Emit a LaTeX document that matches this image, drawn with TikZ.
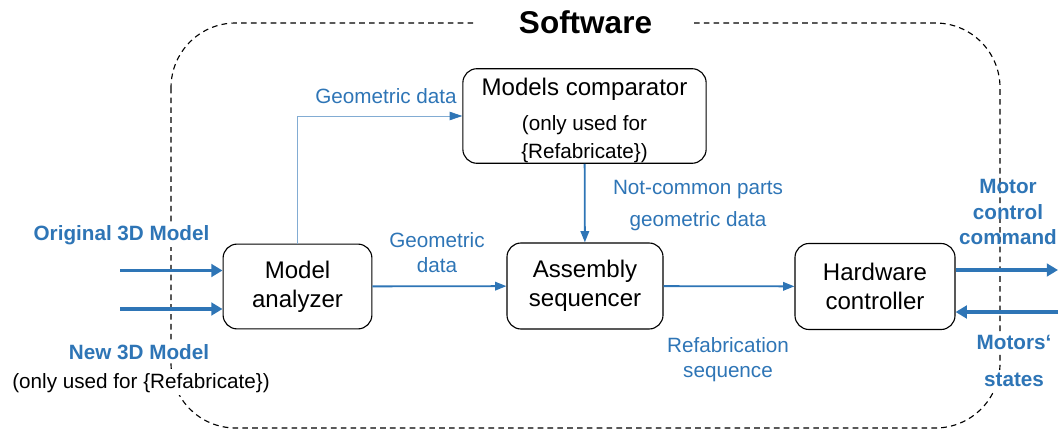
\documentclass[tikz,border=0pt]{standalone}
\usepackage{fontspec}
\setmainfont{Liberation Sans}
\usetikzlibrary{arrows.meta}
\definecolor{swblue}{HTML}{2E75B6}
\newcommand{\smalltxt}{\fontsize{14.7}{17.5}\selectfont}

\begin{document}
\begin{tikzpicture}[x=0.025cm, y=-0.025cm,
  box/.style={draw, line width=0.8pt, rounded corners=10pt, align=center, font=\fontsize{17.1}{20.6}\selectfont},
  lbl/.style={text=swblue, align=center, inner sep=2pt, font=\fontsize{14.7}{17.8}\selectfont},
  blbl/.style={lbl, font=\fontsize{14.7}{17.8}\selectfont\bfseries},
  fat/.style={draw=swblue, line width=2.8pt, -{Triangle[length=8pt, width=9pt]}},
  flow/.style={draw=swblue, line width=1.3pt, -{Triangle[length=8pt, width=6pt]}},
  slim/.style={draw=swblue!60, line width=0.5pt, -{Triangle[length=9pt, width=6pt, fill=swblue, color=swblue]}}]
  \useasboundingbox (0,0) rectangle (1062,432);

  % software frame
  \draw[line width=0.8pt, dash pattern=on 4pt off 3pt, rounded corners=46pt] (171,23) rectangle (1000,428);
  \node[fill=white, inner xsep=30pt, font=\fontsize{22.4}{26}\selectfont\bfseries] (title) at (585.5,22) {Software};

  % blocks
  \node[box, minimum width=3.72cm, minimum height=2.12cm] (analyzer) at (297.5,286.5) {Model\\analyzer};
  \node[box, minimum width=6.08cm, minimum height=2.15cm, inner ysep=0pt] (comparator) at (584.5,116)
    {\rule{0pt}{19pt}Models comparator\\[4pt]{\smalltxt (only used for}\\{\smalltxt\{Refabricate\})}};
  \node[box, minimum width=3.9cm, minimum height=2.15cm] (assembly) at (585,286) {Assembly\\sequencer};
  \node[box, minimum width=4.0cm, minimum height=2.15cm] (hardware) at (875,286.5) {Hardware\\controller};

  % inputs
  \node[blbl, fill=white] (orig) at (121.5,235) {Original 3D Model};
  \node[blbl, fill=white] (new) at (139,352) {New 3D Model};
  \node[fill=white, inner sep=2pt, font=\fontsize{14.7}{17.8}\selectfont] (note) at (141,383) {(only used for \{Refabricate\})};
  \coordinate (in1) at (120,270.5);
  \coordinate (in2) at (120,309);
  \draw[fat] (in1) -- (analyzer.west |- in1);
  \draw[fat] (in2) -- (analyzer.west |- in2);

  % outputs
  \node[blbl] (cmd) at (1008,212) {Motor\\control\\command};
  \node[blbl, fill=white] (motors) at (1014,342) {Motors‘};
  \node[blbl, fill=white] (states) at (1014,380) {states};
  \coordinate (out) at (1058,270);
  \coordinate (back) at (1058,312);
  \draw[fat] (hardware.east |- out) -- (out);
  \draw[fat] (back) -- (hardware.east |- back);

  % data flow
  \draw[slim] (analyzer.north) |- (comparator.west);
  \node[lbl] (geo1) at (386,96) {Geometric data};
  \draw[flow] (analyzer) -- (assembly);
  \node[lbl] (geo2) at (437,252.5) {Geometric\\data};
  \draw[flow] (comparator) -- (assembly);
  \node[lbl, font=\fontsize{14.7}{22.8}\selectfont] (parts) at (698,206) {Not-common parts\\geometric data};
  \draw[flow] (assembly) -- (hardware);
  \node[lbl] (refab) at (728,359.5) {Refabrication\\sequence};
\end{tikzpicture}
\end{document}
